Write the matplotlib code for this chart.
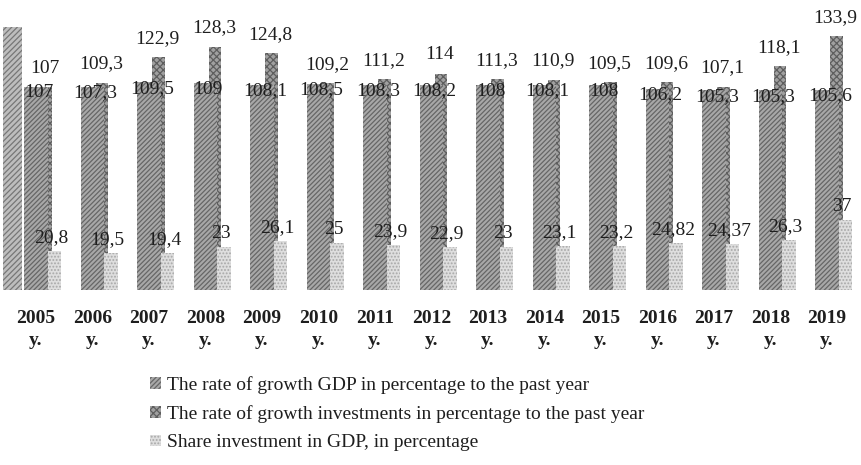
import matplotlib.pyplot as plt
import numpy as np
from matplotlib.patches import Rectangle

# data
years = ['2005', '2006', '2007', '2008', '2009', '2010', '2011', '2012',
         '2013', '2014', '2015', '2016', '2017', '2018', '2019']
gdp = [107, 107.3, 109.5, 109, 108.1, 108.5, 108.3, 108.2,
       108, 108.1, 108, 106.2, 105.3, 105.3, 105.6]
invest = [107, 109.3, 122.9, 128.3, 124.8, 109.2, 111.2, 114,
          111.3, 110.9, 109.5, 109.6, 107.1, 118.1, 133.9]
share = [20.8, 19.5, 19.4, 23, 26.1, 25, 23.9, 22.9,
         23, 23.1, 23.2, 24.82, 24.37, 26.3, 37]
gdp_txt = ['107', '107,3', '109,5', '109', '108,1', '108,5', '108,3', '108,2',
           '108', '108,1', '108', '106,2', '105,3', '105,3', '105,6']
inv_txt = ['107', '109,3', '122,9', '128,3', '124,8', '109,2', '111,2', '114',
           '111,3', '110,9', '109,5', '109,6', '107,1', '118,1', '133,9']
share_txt = ['20,8', '19,5', '19,4', '23', '26,1', '25', '23,9', '22,9',
             '23', '23,1', '23,2', '24,82', '24,37', '26,3', '37']

labels = ['The rate of growth GDP in percentage to the past year',
          'The rate of growth investments in percentage to the past year',
          'Share investment in GDP, in percentage']

plt.rcParams['font.family'] = ['Liberation Serif', 'DejaVu Serif']
plt.rcParams['hatch.linewidth'] = 0.9

fig = plt.figure(figsize=(8.62, 4.65), dpi=100)
ax = fig.add_axes([0.0, 0.376, 1.0, 0.624])

x = np.arange(len(years))

# back wall on the left (3d chart decoration)
ax.add_patch(Rectangle((-0.58, 0), 0.33, 139, facecolor='#bdbdbd',
                       edgecolor='#777777', hatch='//////', lw=0, zorder=0))

b_inv = ax.bar(x + 0.17, invest, 0.22, color='#a0a0a0', edgecolor='#5e5e5e',
               hatch='xxxxx', lw=0, zorder=1, label=labels[1])
b_gdp = ax.bar(x, gdp, 0.42, color='#a8a8a8', edgecolor='#666666',
               hatch='///////', lw=0, zorder=2, label=labels[0])
b_sh = ax.bar(x + 0.33, share, 0.24, color='#dedede', edgecolor='#a8a8a8',
              hatch='.....', lw=0, zorder=3, label=labels[2])

ax.axhline(-1, color='#9a9a9a', lw=1.2, ls=':', zorder=4,
           xmin=0.03, xmax=1.0)

for i in range(len(years)):
    ax.text(x[i] + 0.05, gdp[i] - 3, gdp_txt[i], ha='center', va='center',
            fontsize=14, color='#1e1e1e', zorder=5)
    ax.text(x[i] + 0.15, invest[i] + 10, inv_txt[i], ha='center', va='center',
            fontsize=14, color='#1e1e1e', zorder=5)
    ax.text(x[i] + 0.27, share[i] + 7, share_txt[i], ha='center', va='center',
            fontsize=14, color='#1e1e1e', zorder=5)

ax.set_xlim(-0.637, 14.62)
ax.set_ylim(0, 153)
ax.set_xticks(x)
ax.set_xticklabels([y + '\ny.' for y in years], fontsize=14,
                   fontweight='bold', color='#1e1e1e', linespacing=1.45)
ax.tick_params(axis='x', length=0, pad=14)
ax.set_yticks([])
for s in ax.spines.values():
    s.set_visible(False)

fig.legend(handles=[b_gdp, b_inv, b_sh], labels=labels, loc='upper left',
           bbox_to_anchor=(0.163, 0.212),
           frameon=False, fontsize=14, handlelength=0.55, handleheight=0.55,
           handletextpad=0.3, labelspacing=0.58, borderpad=0,
           labelcolor='#1e1e1e')

fig.savefig('out.png', dpi=100, facecolor='white')
